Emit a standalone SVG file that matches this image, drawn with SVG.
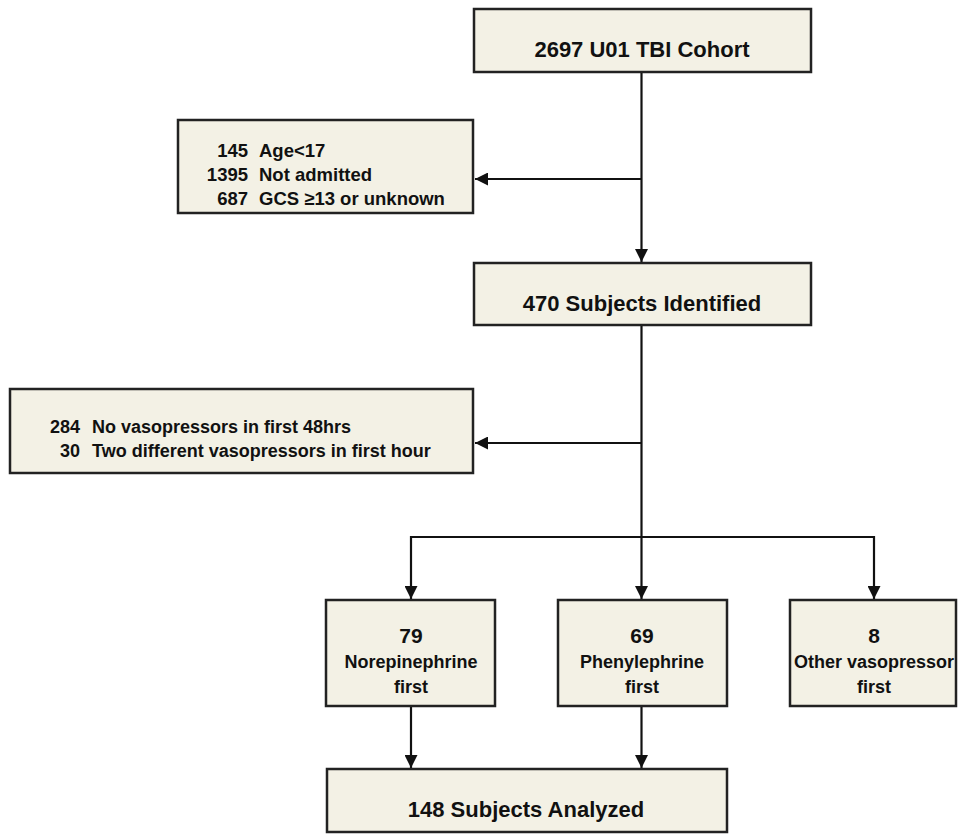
<svg xmlns="http://www.w3.org/2000/svg" width="960" height="834" viewBox="0 0 960 834">
  <style>
    .box { fill: #f3f1e5; stroke: #222; stroke-width: 2.5; }
    .t { font-family: "Liberation Sans", Arial, sans-serif; font-weight: bold; fill: #111; }
    .big { font-size: 22px; text-anchor: middle; }
    .mid { font-size: 18px; text-anchor: middle; }
    .num { font-size: 21px; text-anchor: middle; }
    .ex { font-size: 18.5px; }
    .ex2 { font-size: 18px; }
    .r { text-anchor: end; }
    .conn { fill: none; stroke: #111; stroke-width: 2.2; }
  </style>
  <defs>
    <marker id="ah" viewBox="0 0 13 13" refX="13" refY="6.5" markerWidth="13" markerHeight="13" markerUnits="userSpaceOnUse" orient="auto">
      <path d="M0,0 L13,6.5 L0,13 Z" fill="#111"/>
    </marker>
  </defs>
  <rect width="960" height="834" fill="#fff"/>

  <g id="connectors">
    <line class="conn" x1="641.5" y1="72" x2="641.5" y2="262" marker-end="url(#ah)"/>
    <line class="conn" x1="641.5" y1="179" x2="475" y2="179" marker-end="url(#ah)"/>
    <line class="conn" x1="641.5" y1="325" x2="641.5" y2="599" marker-end="url(#ah)"/>
    <line class="conn" x1="641.5" y1="443" x2="475" y2="443" marker-end="url(#ah)"/>
    <path class="conn" d="M411,537 L874,537"/>
    <line class="conn" x1="411" y1="536" x2="411" y2="599" marker-end="url(#ah)"/>
    <line class="conn" x1="874" y1="536" x2="874" y2="599" marker-end="url(#ah)"/>
    <line class="conn" x1="411" y1="706" x2="411" y2="768" marker-end="url(#ah)"/>
    <line class="conn" x1="641.5" y1="706" x2="641.5" y2="768" marker-end="url(#ah)"/>
  </g>

  <g id="cohort">
    <rect class="box" x="474" y="9" width="337" height="63"/>
    <text class="t big" x="642" y="57">2697 U01 TBI Cohort</text>
  </g>

  <g id="exclusion1">
    <rect class="box" x="178" y="120" width="295" height="93"/>
    <text class="t ex r" x="248" y="157">145</text>
    <text class="t ex" x="259" y="157">Age&lt;17</text>
    <text class="t ex r" x="248" y="181">1395</text>
    <text class="t ex" x="259" y="181">Not admitted</text>
    <text class="t ex r" x="248" y="205">687</text>
    <text class="t ex" x="259" y="205">GCS ≥13 or unknown</text>
  </g>

  <g id="identified">
    <rect class="box" x="474" y="263" width="337" height="62"/>
    <text class="t big" x="642" y="311">470 Subjects Identified</text>
  </g>

  <g id="exclusion2">
    <rect class="box" x="10" y="389" width="463" height="84"/>
    <text class="t ex2 r" x="80" y="433">284</text>
    <text class="t ex2" x="92" y="433">No vasopressors in first 48hrs</text>
    <text class="t ex2 r" x="80" y="457">30</text>
    <text class="t ex2" x="92" y="457">Two different vasopressors in first hour</text>
  </g>

  <g id="norepinephrine">
    <rect class="box" x="326" y="600" width="169" height="106"/>
    <text class="t num" x="411" y="643">79</text>
    <text class="t mid" x="411" y="668">Norepinephrine</text>
    <text class="t mid" x="411" y="693">first</text>
  </g>

  <g id="phenylephrine">
    <rect class="box" x="558" y="600" width="169" height="106"/>
    <text class="t num" x="642" y="643">69</text>
    <text class="t mid" x="642" y="668">Phenylephrine</text>
    <text class="t mid" x="642" y="693">first</text>
  </g>

  <g id="other">
    <rect class="box" x="790" y="600" width="166" height="106"/>
    <text class="t num" x="874" y="643">8</text>
    <text class="t mid" x="874" y="668">Other vasopressor</text>
    <text class="t mid" x="874" y="693">first</text>
  </g>

  <g id="analyzed">
    <rect class="box" x="327" y="769" width="400" height="63"/>
    <text class="t big" x="526" y="817">148 Subjects Analyzed</text>
  </g>
</svg>
